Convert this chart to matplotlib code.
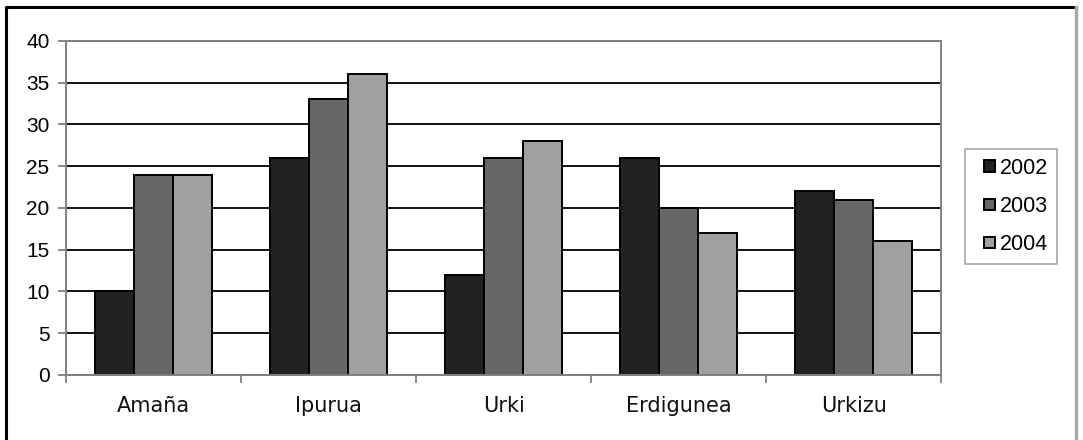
import numpy as np
import matplotlib.pyplot as plt
from matplotlib.lines import Line2D
from matplotlib.patches import Rectangle
from matplotlib.legend_handler import HandlerPatch

# goal counts per district and year
barrios = ['Amaña', 'Ipurua', 'Urki', 'Erdigunea', 'Urkizu']
urteak = ['2002', '2003', '2004']
v2002 = [10, 26, 12, 26, 22]
v2003 = [24, 33, 26, 20, 21]
v2004 = [24, 36, 28, 17, 16]
koloreak = ['#222222', '#666666', '#a0a0a0']

fig = plt.figure(figsize=(10.83, 4.4), dpi=100)
# outer frame: dark left/top, grey right, open at the bottom
fig.lines.append(Line2D([0.0055, 0.0055, 0.9935], [0.0, 0.984, 0.984], transform=fig.transFigure,
                        color='black', linewidth=2.2))
fig.lines.append(Line2D([0.9935, 0.9935], [0.0, 0.984], transform=fig.transFigure,
                        color='#a8a8a8', linewidth=2.5))

ax = fig.add_axes([0.061, 0.148, 0.808, 0.759])

x = np.arange(len(barrios))
w = 0.667 / 3
barrak = []
for i, (vals, c, lab) in enumerate(zip([v2002, v2003, v2004], koloreak, urteak)):
    b = ax.bar(x + (i - 1) * w, vals, w, color=c, edgecolor='black', linewidth=1.4,
               label=lab, zorder=3)
    barrak.append(b.patches[0])

ax.set_xlim(-0.5, len(barrios) - 0.5)
ax.set_ylim(0, 40)
ax.set_yticks(range(0, 41, 5))
ax.yaxis.grid(True, color='black', linewidth=1.3, zorder=0)
for s in ax.spines.values():
    s.set_color('#808080')
    s.set_linewidth(1.4)
ax.spines['left'].set_zorder(4)
ax.spines['bottom'].set_zorder(4)

ax.set_xticks(x)
ax.set_xticklabels(barrios, fontsize=15, family='DejaVu Sans', color='#111111')
ax.tick_params(axis='x', length=0, pad=15)
ax.set_xticks(np.arange(-0.5, len(barrios), 1), minor=True)
ax.tick_params(axis='x', which='minor', length=6, color='#808080', width=1.3)
ax.tick_params(axis='y', length=6, color='#808080', width=1.3, labelsize=15, pad=6)
for t in ax.get_yticklabels():
    t.set_family('Liberation Sans')


# small square legend key sitting at the right end of the handle box
def kutxa(legend, orig_handle, xdescent, ydescent, width, height, fontsize):
    s = 0.52 * fontsize
    return Rectangle((width - xdescent - s, ydescent + (height - s) / 2), s, s)


leg = ax.legend(barrak, urteak, loc='center left', bbox_to_anchor=(1.027, 0.505),
                borderaxespad=0, frameon=True, fancybox=False,
                prop={'family': 'Liberation Sans', 'size': 15.5},
                handler_map={Rectangle: HandlerPatch(patch_func=kutxa)},
                handlelength=1.0, handleheight=0.7, handletextpad=0.25,
                labelspacing=0.8, borderpad=0.4)
leg.get_frame().set_edgecolor('#909090')
leg.get_frame().set_linewidth(1.2)

fig.savefig('out.png', dpi=100)
